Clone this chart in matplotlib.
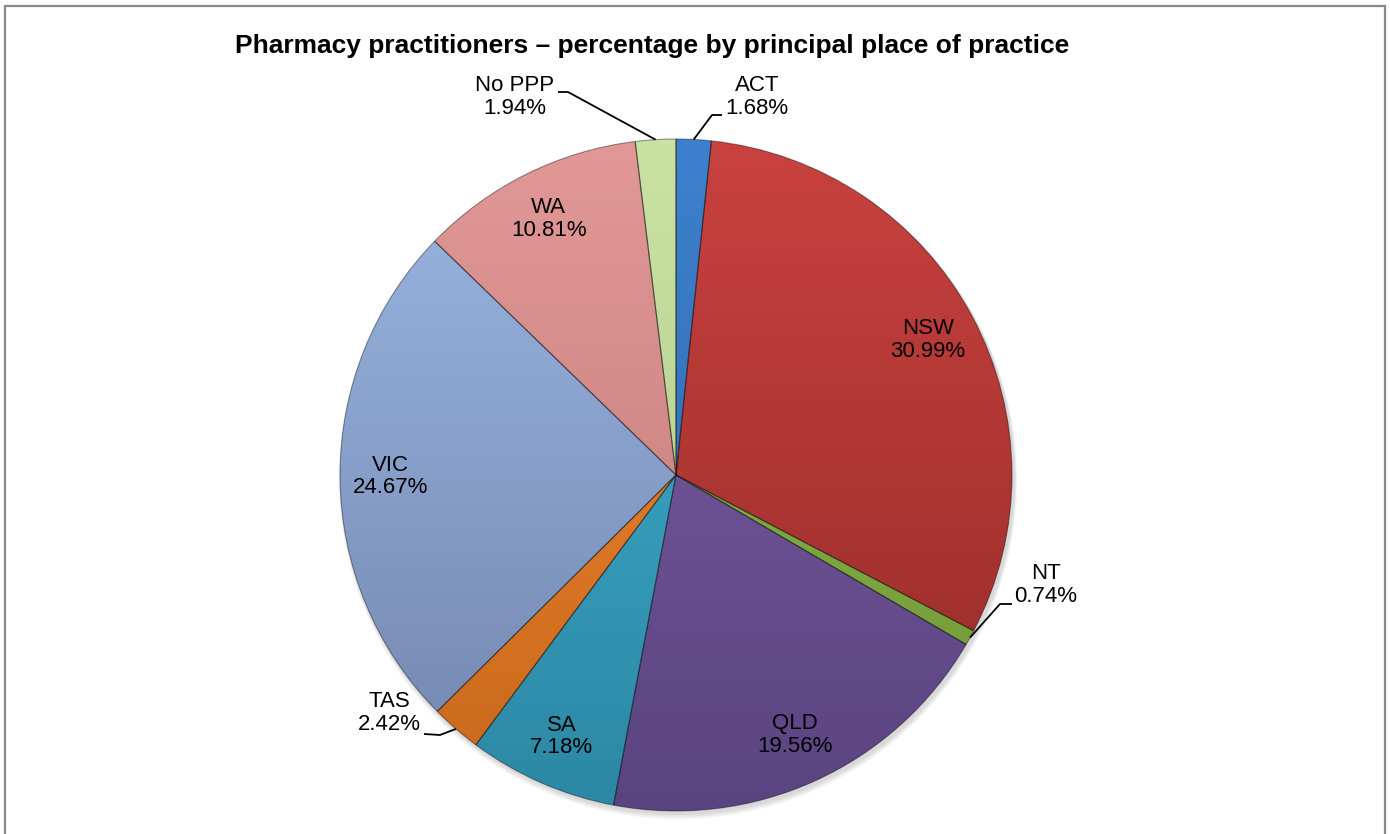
import numpy as np
import matplotlib
matplotlib.use('Agg')
import matplotlib.pyplot as plt
from matplotlib.colors import to_rgb
from matplotlib.patches import Rectangle, Circle

plt.rcParams['font.family'] = ['Liberation Sans', 'DejaVu Sans']

# data
regions = ['ACT', 'NSW', 'NT', 'QLD', 'SA', 'TAS', 'VIC', 'WA', 'No PPP']
shares = [1.68, 30.99, 0.74, 19.56, 7.18, 2.42, 24.67, 10.81, 1.94]
top_colors = ['#3d80cd', '#c9423f', '#93bf4d', '#7d5fa7', '#40b0d2', '#f48c30',
              '#9ab7e4', '#e19896', '#cae2a2']
bottom_colors = ['#2f66a6', '#932a27', '#6e9436', '#5a4480', '#2c88a4', '#c8671c',
                 '#7285ad', '#c07977', '#aec686']
outside = ['ACT', 'NT', 'TAS', 'No PPP']

W, H = 1390, 834
fig = plt.figure(figsize=(W / 100, H / 100), dpi=100)
ax = fig.add_axes([0, 0, 1, 1])


def py(y):
    # pixel row -> data y
    return H - y


cx, cy, r = 676, py(475), 336

# soft shadow
for k, a in enumerate([0.05, 0.05, 0.05]):
    ax.add_patch(Circle((cx + 2, cy - 3 - k), r + 1 + k, color='black', alpha=a, lw=0, zorder=0))

wedges, _ = ax.pie(shares, startangle=90, counterclock=False, center=(cx, cy), radius=r,
                   wedgeprops=dict(facecolor='none', edgecolor=(0, 0, 0, 0.4), linewidth=0.8),
                   frame=True)

n = 256
t = np.linspace(0, 1, n)[:, None]
for w, c1, c2 in zip(wedges, top_colors, bottom_colors):
    a = np.array(to_rgb(c1))
    b = np.array(to_rgb(c2))
    img = (a * (1 - t) + b * t)[:, None, :]
    im = ax.imshow(img, extent=[cx - r, cx + r, cy - r, cy + r], origin='upper',
                   aspect='auto', zorder=1, interpolation='bilinear')
    im.set_clip_path(w)
    w.set_zorder(2)

# labels
fs = 16
ls = 1.1
total = sum(shares)
cum = 0
for name, val, w in zip(regions, shares, wedges):
    mid = 90 - (cum + val / 2) / total * 360
    cum += val
    txt = '{}\n{:.2f}%'.format(name, val)
    ang = np.deg2rad(mid)
    if name not in outside:
        lx = cx + 0.85 * r * np.cos(ang)
        ly = cy + 0.85 * r * np.sin(ang)
        ax.text(lx, ly, txt, ha='center', va='center', fontsize=fs, linespacing=ls, zorder=5)
        continue
    ex, ey = cx + r * np.cos(ang), cy + r * np.sin(ang)
    if name == 'ACT':
        pts = [(ex, ey), (712, py(115)), (722, py(115))]
        tpos = (757, py(97))
    elif name == 'No PPP':
        pts = [(ex, ey), (568, py(92)), (558, py(92))]
        tpos = (515, py(97))
    elif name == 'NT':
        pts = [(ex, ey), (1000, py(604)), (1012, py(604))]
        tpos = (1046, py(585))
    else:
        pts = [(ex, ey), (440, py(735)), (424, py(734))]
        tpos = (389, py(713))
    xs, ys = zip(*pts)
    ax.plot(xs, ys, color='black', lw=1.3, zorder=4, solid_capstyle='butt')
    ax.text(tpos[0], tpos[1], txt, ha='center', va='center', fontsize=fs, linespacing=ls, zorder=5)

ax.text(652, py(46), 'Pharmacy practitioners \u2013 percentage by principal place of practice',
        ha='center', va='center', fontsize=19, fontweight='bold')

# chart border
ax.add_patch(Rectangle((4.5, -20), 1380, py(5.5) + 20, fill=False, edgecolor='#888888', lw=1.6, zorder=6))

ax.set_xlim(0, W)
ax.set_ylim(0, H)
ax.set_aspect('auto')
ax.axis('off')

fig.savefig('out.png', dpi=100, facecolor='white')
